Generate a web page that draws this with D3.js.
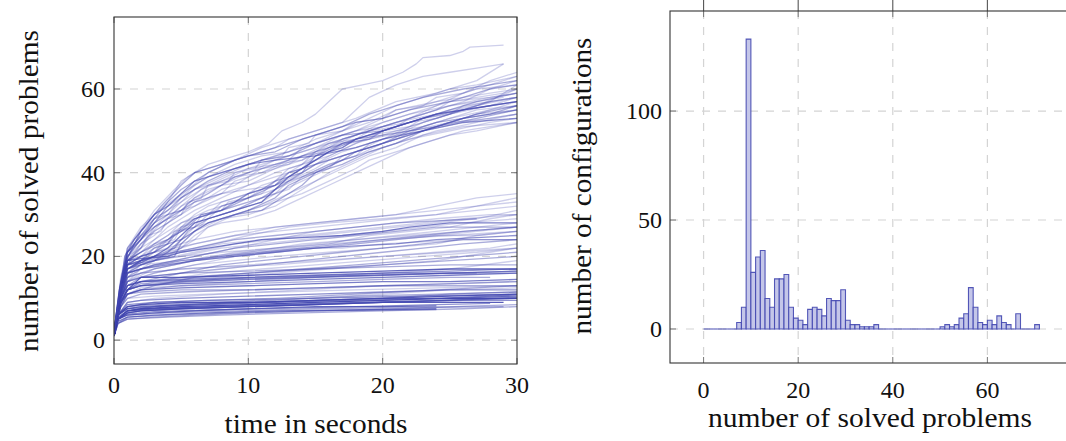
<!DOCTYPE html>
<html><head><meta charset="utf-8">
<script src="https://cdnjs.cloudflare.com/ajax/libs/d3/7.8.5/d3.min.js"></script>
<style>
html,body{margin:0;padding:0;background:#fff;}
svg{display:block;}
</style></head>
<body>
<svg id="chart" width="1066" height="441" font-family="'Liberation Serif','DejaVu Serif',serif"></svg>
<script>
// ---------------- DATA ----------------
// Left chart: cumulative solved problems over time; each entry: [points [t, solved], n]
// n = how many near-identical configurations share the curve
const upperFast = [
  [[[0,1],[0.3,8],[0.8,20],[1.5,24],[2.5,28],[3.5,32],[5,37],[6,40],[8,42],[10,44],[12,45],[14,48],[16,50],[18,52],[20,53],[22,55],[25,57],[28,60],[30,61]],2],
  [[[0,2],[0.4,12],[1,21],[2,25],[3,29],[4,31],[5,34],[7,38],[9,41],[11,43],[13,44],[15,47],[17,49],[20,50],[23,53],[26,55],[30,57]],2],
  [[[0,1],[0.5,14],[1,19],[2,22],[3,27],[4.5,30],[6,33],[8,37],[10,40],[12,43],[14,45],[16,47],[18,49],[20,52],[22,54],[25,56],[28,58],[30,59]],1],
  [[[0,2],[0.5,15],[1,22],[2,27],[3,30],[5,35],[7,39],[9,42],[11,44],[13,45],[15,48],[17,50],[19,52],[21,55],[24,57],[27,60],[29,62],[30,63]],1],
  [[[0,1],[0.4,10],[1,18],[2,23],[3.5,28],[5,32],[6.5,36],[8,38],[10,41],[12,42],[14,44],[16,46],[19,48],[22,50],[25,52],[28,53],[30,54]],1],
  [[[0,2],[0.6,16],[1.2,21],[2.5,26],[4,32],[5.5,36],[7,40],[9,43],[11,46],[13,48],[15,50],[18,53],[21,57],[24,59],[27,62],[29,66]],1],
  [[[0,1],[0.5,13],[1,20],[2,24],[3,28],[4,30],[5,31],[6,34],[7,36],[8,37],[10,38],[12,41],[14,44],[16,47],[18,49],[21,52],[24,54],[27,56],[30,58]],1],
  [[[0,2],[0.4,12],[0.9,19],[2,26],[3,30],[4,32],[5,35],[6,38],[8,40],[10,42],[12,43],[15,44],[18,46],[20,48],[23,50],[26,52],[30,53]],3],
  [[[0,2],[0.4,10],[0.8,20],[1.5,24],[3,31],[4.5,36],[5.5,39],[7,42],[9,44],[10,45],[11.5,47],[12.5,50],[14,52],[15,54],[16,57],[17,60],[18.5,61],[20,62],[21.5,64],[22.5,66],[23,67.5],[25,68],[26,69],[26.5,70],[29,70.5]],1],
  [[[0,2],[0.5,12],[1,22],[2,26],[3,30],[4,33],[5,38],[6,40],[8,42],[10,44],[12,46],[13,48],[15,50],[17,52],[18,55],[19,58],[21,61],[23,63],[25,64],[27,65],[29,66]],1],
  [[[0,1],[0.5,13],[1,21],[2,24],[3,29],[4,33],[5,36],[7,40],[9,43],[11,45],[13,47],[15,49],[17,51],[19,54],[21,56],[23,58],[26,60],[28,61],[30,62]],2],
  [[[0,2],[0.5,14],[1,21],[2,25],[3,27],[4,29],[5,32],[7,35],[9,39],[11,41],[13,43],[14,46],[16,48],[18,50],[20,53],[22,55],[24,57],[26,58],[28,59],[30,60]],1],
  [[[0,2],[0.5,13],[1,20],[2,24],[3,28],[4,32],[5,34],[6,36],[8,38],[10,40],[12,42],[14,43],[16,46],[18,49],[20,51],[23,54],[26,57],[28,60],[30,62]],1],
  [[[0,1],[0.6,15],[1,21],[2,25],[3,28],[4,31],[5,33],[7,37],[9,40],[11,42],[13,44],[15,46],[17,49],[19,51],[21,53],[23,55],[25,57],[28,58],[30,59]],1],
  [[[0,1],[0.5,11],[1,18],[2,22],[3,26],[5,30],[6,32],[8,35],[10,36],[12,37],[13,40],[15,42],[17,44],[19,46],[21,48],[23,51],[25,53],[28,55],[30,56]],1],
  [[[0,2],[0.5,14],[1,22],[2,26],[3,29],[4,30],[5,33],[6,36],[8,39],[10,42],[12,44],[14,46],[16,48],[18,50],[20,51],[22,53],[24,56],[26,59],[28,62],[30,64]],1],
  [[[0,2],[0.5,12],[1,19],[2,23],[3,25],[4,28],[5,31],[6,34],[8,37],[9,39],[11,40],[13,43],[15,45],[17,48],[19,50],[21,52],[23,54],[25,56],[27,57],[29,58]],1],
  [[[0,2],[0.5,13],[1,21],[2,24],[3,27],[4,30],[5,34],[6,37],[7,39],[9,41],[11,43],[13,45],[15,47],[17,50],[19,53],[21,56],[23,58],[25,60],[27,61],[30,63]],1],
  [[[0,1],[0.5,13],[1,20],[2,22],[2.5,25],[3.5,26],[4,29],[5,30],[5.5,33],[6.5,34],[7,37],[8.5,38],[9,40],[10.5,41],[11,43],[12.5,44],[13,46],[14.5,47],[15,49],[17,50],[18,52],[20,53],[21,55],[23,56],[24,58],[26,59],[27,60],[30,61]],1],
  [[[0,2],[0.5,14],[1,21],[1.5,23],[2.5,26],[3,28],[4,30],[5,31],[6,33],[7,34],[8,36],[9,37],[10,39],[11,40],[12,41],[14,43],[15,45],[16,47],[18,48],[19,50],[21,51],[22,53],[24,55],[25,57],[27,58],[29,59],[30,60]],1],
  [[[0,2],[0.4,11],[1,20],[2,24],[3,27],[4,29],[5,31],[6,32],[7,34],[8,35],[9,38],[10,39],[11,41],[13,42],[14,44],[16,45],[17,47],[19,48],[20,50],[22,52],[24,53],[26,55],[28,56],[30,57]],1]
];
const upperLate = [
  [[[0,1],[0.5,12],[1,17],[2,19],[3,20],[4,22],[5,25],[6,28],[7,29],[8,30],[10,32],[11,33],[12,36],[13,39],[14,41],[15,43],[16,45],[17,46],[18,48],[20,50],[22,52],[24,54],[26,55],[28,56],[30,57]],4],
  [[[0,2],[0.6,14],[1,18],[2,20],[3,21],[4,23],[4.5,25],[5.5,27],[6.5,30],[8,31],[9,33],[10,35],[11,36],[12,38],[14,40],[15,44],[17,47],[19,49],[21,51],[23,53],[25,55],[27,57],[30,59]],2],
  [[[0,1],[0.5,11],[1,16],[2,18],[3,19],[4,21],[5,24],[6,26],[7,28],[9,30],[10,31],[12,34],[13,37],[15,40],[17,43],[18,45],[20,47],[22,50],[24,51],[26,53],[28,54],[30,56]],2],
  [[[0,2],[0.5,13],[1,19],[2,21],[3,24],[4,26],[5,28],[7,30],[8,33],[10,35],[12,37],[14,40],[16,44],[18,47],[20,49],[22,51],[25,54],[28,56],[30,58]],1],
  [[[0,1],[0.5,12],[1,17],[3,20],[4.5,22],[5.5,26],[7,29],[9,31],[11,34],[13,38],[15,42],[17,44],[19,46],[21,48],[24,51],[27,53],[30,55]],2],
  [[[0,2],[0.5,10],[1,15],[2,18],[4,21],[5,23],[6,26],[8,29],[10,30],[12,32],[14,36],[16,40],[18,43],[20,46],[22,48],[25,50],[28,52],[30,53]],1],
  [[[0,1],[0.4,10],[1,16],[2,19],[3,22],[4,24],[5,27],[6,29],[8,31],[10,33],[12,35],[13,38],[15,41],[16,43],[18,45],[20,48],[22,51],[24,53],[27,56],[30,60]],1],
  [[[0,2],[0.5,13],[1,18],[2,20],[3,22],[5,24],[6,27],[7,30],[9,32],[11,34],[13,36],[14,39],[16,42],[18,44],[19,47],[21,49],[23,52],[25,54],[28,57],[30,61]],1],
  [[[0,1],[0.6,14],[1,19],[2,21],[4,24],[6,29],[8,31],[10,34],[12,37],[14,41],[16,45],[18,48],[20,49],[22,50],[24,52],[26,53],[28,54],[30,55]],2],
  [[[0,2],[0.4,9],[1,14],[2,17],[3,19],[5,22],[6,25],[7,27],[9,30],[11,32],[13,35],[15,38],[17,41],[19,44],[21,46],[23,49],[26,51],[30,52]],1],
  [[[0,1],[0.5,12],[1,18],[3,19],[4.5,20],[5,23],[6,26],[7,28],[9,30],[11,31],[12,33],[14,37],[15,40],[17,42],[19,45],[21,47],[23,50],[25,52],[27,54],[30,56]],2],
  [[[0,1],[0.5,12],[1,20],[2,23],[3,26],[4,28],[5,30],[6,33],[7,34],[9,36],[11,38],[13,40],[15,42],[17,45],[19,47],[21,49],[23,50],[25,52],[27,54],[30,55]],1],
  [[[0,1],[0.4,11],[1,19],[2,22],[3,24],[4,27],[5,29],[6,31],[8,34],[10,37],[12,40],[14,42],[16,44],[18,47],[20,50],[22,52],[25,55],[28,57],[30,58]],1],
  [[[0,1],[0.5,12],[1,18],[2,20],[3,23],[4,25],[5,27],[6,30],[7,32],[9,34],[11,36],[13,38],[15,40],[17,43],[19,45],[21,47],[24,50],[27,52],[30,54]],1],
  [[[0,2],[0.4,10],[1,17],[2,19],[3,21],[4,24],[5,26],[6,27],[8,29],[10,31],[12,33],[14,35],[16,38],[18,41],[19,43],[21,45],[23,47],[25,49],[27,50],[30,52]],1],
  [[[0,2],[0.5,13],[1,19],[2,21],[3,23],[4,25],[5,28],[7,31],[8,32],[10,34],[12,36],[14,39],[16,42],[18,44],[20,47],[22,49],[24,51],[26,53],[28,55],[30,57]],1],
  [[[0,1],[0.5,12],[1,18],[2,20],[3,21],[4,23],[5,24],[6,26],[7,29],[9,31],[11,33],[12,35],[14,38],[16,41],[17,44],[19,46],[21,48],[23,50],[26,52],[30,54]],1],
  [[[0,1],[0.4,9],[1,16],[2,18],[4,20],[5,22],[6,24],[7,27],[8,28],[10,29],[12,31],[14,34],[16,37],[18,40],[20,43],[22,46],[24,48],[26,50],[28,51],[30,52]],1],
  [[[0,2],[0.5,11],[1,18],[2,19],[3,22],[4,23],[4.5,26],[6,27],[6.5,30],[8,31],[8.5,33],[10,34],[11,36],[12,37],[13,40],[14,41],[15,44],[16,45],[17,47],[19,48],[20,50],[22,51],[23,53],[25,54],[26,56],[28,57],[30,58]],1],
  [[[0,1],[0.5,12],[1,19],[2,21],[3,23],[4,24],[5,26],[6,29],[7,30],[8,32],[9,33],[10,35],[11,37],[12,38],[13,41],[14,42],[15,45],[16,46],[17,48],[18,49],[20,51],[22,52],[24,54],[26,55],[28,57],[30,58]],1],
  [[[0,1],[0.5,12],[1,19],[2,20],[3,21],[3.5,23],[4.5,24],[5,27],[6,28],[7,29],[8,32],[9,33],[10,34],[11,35],[12,38],[13,40],[14,42],[15,44],[16,46],[17,47],[19,49],[21,50],[23,51],[25,53],[27,55],[30,56]],1]
];
const midHigh = [
  [[[0,2],[0.5,12],[1,19],[2,19.5],[4,20],[5,21],[7,22],[9,23],[11,24],[14,24.5],[17,25],[20,26],[22,27],[25,28],[27,28],[30,28]],4],
  [[[0,1],[0.5,10],[1,17],[3,21],[6,24],[9,26],[12,27],[15,28],[18,29],[21,30],[24,32],[27,34],[30,35]],1],
  [[[0,2],[0.5,11],[1,18],[3,20],[6,22],[10,25],[13,27],[16,28],[20,29],[24,30],[27,31],[30,32]],1],
  [[[0,1],[0.5,9],[1,15],[2,17],[5,19],[8,20],[11,21],[14,22],[17,23],[20,24],[23,25],[26,26],[30,27]],2],
  [[[0,2],[0.5,12],[1,16],[3,18],[5,18.5],[7,20],[10,21],[13,22],[16,23],[19,25],[22,26],[25,27],[28,29],[30,30]],1],
  [[[0,1],[0.5,10],[1,16],[2,17],[4,18],[6,19],[9,20],[12,21],[15,22],[18,22.5],[21,23],[24,24],[27,24.5],[30,25]],3],
  [[[0,2],[0.6,11],[1,14],[3,16],[6,18],[9,19],[12,20],[16,21],[20,22],[24,23],[27,25],[30,26]],1],
  [[[0,1],[0.5,9],[1,13],[2,14],[5,16],[8,18],[11,19],[14,20],[17,21],[20,22],[23,23],[26,24],[30,24]],2],
  [[[0,2],[0.5,12],[1,17],[3,20],[6,22],[9,24],[12,25],[15,26],[18,27],[21,28],[24,28.5],[27,29]],2],
  [[[0,1],[0.5,13],[1,18],[2,19],[5,20],[8,21],[12,22],[16,23],[20,24],[25,25],[30,26]],1],
  [[[0,1],[0.5,11],[1,17],[3,19],[5,20],[8,22],[11,23],[14,24],[17,25],[20,26],[23,27],[26,28],[30,29]],1],
  [[[0,1],[0.5,11],[1,17],[3,19],[6,21],[9,23],[12,24],[15,25],[18,26],[21,27],[24,28],[27,29],[30,31]],1],
  [[[0,2],[0.5,12],[1,18],[3,20],[6,23],[9,25],[12,26],[15,27],[18,28],[21,29],[24,30],[27,32],[30,33]],1],
  [[[0,1],[0.5,10],[1,15],[3,17],[6,19],[9,21],[12,22],[15,23],[18,24],[21,25],[24,26],[27,27],[30,28]],1],
  [[[0,2],[0.5,11],[1,16],[3,18],[6,20],[9,22],[12,23],[15,24],[18,25],[21,26],[24,27],[27,27],[30,27]],2],
  [[[0,1],[0.5,12],[1,17],[2,18],[5,19],[8,20],[11,21],[14,22],[17,22],[20,23],[23,23.5],[26,24],[30,24]],1],
  [[[0,2],[0.5,10],[1,14],[3,17],[6,19],[10,21],[14,23],[18,24],[22,25],[26,26],[30,27]],1],
  [[[0,1],[0.5,11],[1,16],[3,18],[6,20],[9,22],[12,24],[15,26],[18,27],[21,28],[24,29],[28,30],[30,30]],1],
  [[[0,1],[0.5,12],[1,18],[2,19],[5,21],[8,23],[11,24],[14,25],[17,26],[20,27],[23,28],[26,29],[30,30]],1],
  [[[0,2],[0.5,13],[1,19],[3,21],[6,23],[9,25],[12,27],[15,28],[18,29],[21,30],[24,31],[27,32],[30,34]],1],
  [[[0,1],[0.5,10],[1,14],[3,16],[6,18],[9,20],[12,21],[15,22],[18,23],[21,24],[24,25],[27,26],[30,27]],1],
  [[[0,2],[0.5,11],[1,15],[3,17],[6,19],[9,20],[12,21],[15,22],[18,23],[21,24],[24,25],[27,25],[30,26]],1]
];
const midLow = [
  [[[0,2],[0.5,9],[1,12],[2,15],[5,15],[10,15.5],[15,16],[20,16.5],[25,17],[30,17]],6],
  [[[0,1],[0.4,8],[1,12],[2,13],[5,13.5],[10,14],[15,14.5],[20,15],[25,15.5],[30,16]],4],
  [[[0,2],[0.5,9],[1,11],[2,12],[5,12.5],[10,13],[15,13.5],[20,14],[25,14],[30,14.5]],4],
  [[[0,1],[0.5,10],[1,13],[2,14],[5,15],[10,16],[15,17],[20,18],[25,19],[30,20]],2],
  [[[0,2],[0.5,8],[1,11],[3,13],[6,15],[10,16],[14,17],[18,18],[22,19],[26,20],[30,21]],2],
  [[[0,1],[0.5,9],[1,12],[2,13],[5,14],[10,15],[15,15.5],[20,16],[25,16],[27,16]],2],
  [[[0,1],[0.5,10],[1,14],[2,15],[5,16],[8,17],[11,18],[14,19],[17,20],[20,21],[23,22],[26,23],[30,24]],2],
  [[[0,2],[0.5,8],[1,11],[2,12],[5,13],[10,13.5],[15,14],[20,14.5],[25,15],[28,15]],2],
  [[[0,1],[0.5,9],[1,13],[2,14],[4,14.5],[8,15],[12,16],[16,17],[20,18],[24,19],[28,21],[30,22]],1],
  [[[0,1],[0.5,9],[1,12],[2,14],[5,14.5],[10,15],[15,15.5],[20,16],[25,16.5],[30,17]],3],
  [[[0,2],[0.5,10],[1,13],[2,15],[5,16],[10,16.5],[15,17],[20,17.5],[25,18],[30,18]],2],
  [[[0,1],[0.5,8],[1,11],[2,12.5],[5,13],[10,14],[15,15],[20,16],[25,17],[30,19]],1],
  [[[0,2],[0.5,9],[1,12],[3,14],[7,16],[11,17],[15,18],[19,19],[23,20],[27,21],[30,22]],1],
  [[[0,1],[0.5,9],[1,11],[2,11.5],[5,12],[10,12],[15,12.5],[20,13],[25,13],[30,13]],2],
  [[[0,1],[0.5,10],[1,13],[2,14],[5,14.2],[10,14.8],[15,15.2],[20,15.6],[25,16],[30,16.5]],3],
  [[[0,2],[0.5,9],[1,12],[2,13],[5,13.8],[10,14.5],[15,15],[20,15.5],[25,16],[30,16]],2],
  [[[0,1],[0.5,11],[1,15],[2,16],[5,17],[10,18],[15,19],[20,20],[25,21],[30,22]],1],
  [[[0,1],[0.5,10],[1,14],[2,16],[5,17],[8,17.5],[12,18],[16,19],[20,20],[24,21],[28,22],[30,23]],1],
  [[[0,2],[0.5,8],[1,10],[2,11],[5,11.5],[10,12],[15,12.5],[20,13],[25,13.5],[30,14]],2],
  [[[0,1],[0.5,9],[1,12],[2,13.5],[5,14],[10,14.5],[15,15],[20,15.5],[25,16],[30,16.5]],2]
];
const lowBand = [
  [[[0,1],[0.3,5],[1,7],[2,7.5],[5,8],[10,8.5],[15,9],[20,9.5],[25,10],[30,10]],10],
  [[[0,2],[0.3,5],[1,6.5],[2,7],[5,7.5],[10,8],[15,8.5],[20,9],[25,9],[29,9]],7],
  [[[0,1],[0.3,6],[1,8],[2,8.5],[5,9],[10,9],[15,9.5],[20,10],[25,10.5],[30,11]],7],
  [[[0,2],[0.3,5],[1,6],[3,6.5],[6,7],[10,7.5],[15,8],[20,8],[24,8.2]],5],
  [[[0,1],[0.3,4.5],[1,5.5],[3,6],[7,6.5],[12,7],[18,7.2],[24,7.5]],4],
  [[[0,1],[0.3,6],[1,9],[2,9.5],[5,10],[10,10.5],[15,11],[20,11.5],[25,12],[30,12]],3],
  [[[0,2],[0.3,5],[1,7],[3,7.5],[8,8],[14,8.5],[20,9],[26,9.5],[30,9.5]],3],
  [[[0,1],[0.3,6],[1,8],[3,9],[7,9.5],[12,10],[18,11],[24,12],[30,13]],2],
  [[[0,1],[0.3,4],[1,5],[4,5.5],[8,6],[14,6.5],[20,7],[26,7.5],[30,8]],2],
  [[[0,2],[0.3,6],[1,9],[3,10],[8,11],[14,12],[20,13],[26,13.5],[30,14]],1],
  [[[0,1],[0.3,5],[1,7],[3,8],[8,9],[14,10],[20,11],[25,12],[30,12.5]],1],
  [[[0,1],[0.3,5],[1,6],[4,6.5],[9,7],[15,7.5],[21,7.8],[29,8]],2],
  [[[0,1],[0.3,5],[1,6.5],[2,7],[5,7.5],[10,8],[15,8.5],[20,9],[25,9.5],[30,10]],5],
  [[[0,2],[0.3,6],[1,7.5],[2,8],[5,8.5],[10,9],[15,9.5],[20,10],[25,10],[30,10.5]],5],
  [[[0,1],[0.3,4],[1,5],[3,5.5],[6,6],[10,6.5],[15,7],[20,7.2],[24,7.3]],2],
  [[[0,1],[0.3,5],[1,7],[3,8],[6,8.5],[10,9],[15,9.5],[20,10],[25,11],[30,11.5]],2],
  [[[0,1],[0.3,5.5],[1,7],[3,7.5],[7,8],[12,8.5],[18,9],[24,9.5],[30,10.2]],4],
  [[[0,1],[0.3,6],[1,7.5],[3,8],[7,8.5],[12,9],[18,9.5],[24,10],[30,10.8]],4],
  [[[0,2],[0.3,6],[1,8.5],[3,9],[7,9.5],[12,9.8],[18,10.2],[24,10.6],[30,11]],3],
  [[[0,1],[0.3,5],[1,6.2],[3,6.8],[7,7.2],[12,7.6],[18,8],[24,8.5],[28,8.8]],3],
  [[[0,1],[0.3,7],[1,10],[3,10.5],[7,11],[12,11.5],[18,12],[24,12.5],[30,13]],1],
  [[[0,1],[0.3,6],[1,8],[3,8.5],[7,9],[12,9.5],[18,10.5],[24,11],[30,11.5]],2],
  [[[0,1],[0.3,4],[1,5.5],[4,6],[9,6.5],[15,7],[21,7.5],[27,8.2],[30,8.5]],2]
];
const xTicksLeft = [0,10,20,30];
const yTicksLeft = [0,20,40,60];

// Right chart: histogram (bin k covers [k, k+1))
const binStarts = d3.range(0,71);
const binCounts = [0,0,0,0,0,0,0,3,10,133,26,33,36,14,10,23,23,25,10,5,4,2,9,10,9,6,14,13,13,18,4,2,2,1,1,1,2,
  0,0,0,0,0,0,0,0,0,0,0,0,0,1,2,1,2,5,7,19,10,3,2,4,2,6,3,2,0,7,0,0,0,2];
const xTicksRight = [0,20,40,60];
const yTicksRight = [0,50,100];

const leftXLabel = "time in seconds";
const leftYLabel = "number of solved problems";
const rightXLabel = "number of solved problems";
const rightYLabel = "number of configurations";

// ---------------- DRAW ----------------
const svg = d3.select("#chart");
const FONT = "'Liberation Serif','DejaVu Serif',serif";
const BLUE = "#4247b0";
const GRID = "#d4d4d4";
const FRAME = "#333";
const TICKC = "#777";

function label(g, txt, x, y, rot, len){
  const t = g.append("text").attr("font-family",FONT).attr("fill","#111")
    .attr("text-anchor","middle").attr("font-size",27)
    .attr("textLength",len).attr("lengthAdjust","spacingAndGlyphs").text(txt);
  t.attr("transform",`translate(${x},${y})`+(rot?" rotate(-90)":""));
}

// LEFT
const L = {left:114, right:517, top:17, bottom:364};
const xL = d3.scaleLinear().domain([0,30]).range([L.left,L.right]);
const yL = d3.scaleLinear().domain([-5.7,77.2]).range([L.bottom,L.top]);

const gL = svg.append("g");
gL.append("clipPath").attr("id","clipL").append("rect")
  .attr("x",L.left).attr("y",L.top).attr("width",L.right-L.left).attr("height",L.bottom-L.top);

gL.selectAll(".gx").data(xTicksLeft.filter(d=>d>0&&d<30)).join("line")
  .attr("x1",d=>xL(d)).attr("x2",d=>xL(d)).attr("y1",L.top).attr("y2",L.bottom)
  .attr("stroke",GRID).attr("stroke-width",1.2).attr("stroke-dasharray","8,8");
gL.selectAll(".gy").data(yTicksLeft).join("line")
  .attr("x1",L.left).attr("x2",L.right).attr("y1",d=>yL(d)).attr("y2",d=>yL(d))
  .attr("stroke",GRID).attr("stroke-width",1.2).attr("stroke-dasharray","8,8");

const lineGen = d3.line().x(d=>xL(d[0])).y(d=>yL(d[1]));
const allLines = [].concat(lowBand, midLow, midHigh, upperLate, upperFast);
const gLines = gL.append("g").attr("clip-path","url(#clipL)");
gLines.selectAll("path").data(allLines).join("path")
  .attr("d",d=>lineGen(d[0]))
  .attr("fill","none").attr("stroke",BLUE)
  .attr("stroke-width",1.3)
  .attr("stroke-linejoin","round")
  .attr("stroke-opacity",d=>1-Math.pow(0.74,d[1]));

const tl = 6;
xTicksLeft.forEach(t=>{
  gL.append("line").attr("x1",xL(t)).attr("x2",xL(t)).attr("y1",L.bottom).attr("y2",L.bottom-tl).attr("stroke",TICKC);
  gL.append("line").attr("x1",xL(t)).attr("x2",xL(t)).attr("y1",L.top).attr("y2",L.top+tl).attr("stroke",TICKC);
});
yTicksLeft.forEach(t=>{
  gL.append("line").attr("x1",L.left).attr("x2",L.left+tl).attr("y1",yL(t)).attr("y2",yL(t)).attr("stroke",TICKC);
  gL.append("line").attr("x1",L.right).attr("x2",L.right-tl).attr("y1",yL(t)).attr("y2",yL(t)).attr("stroke",TICKC);
});
gL.append("rect").attr("x",L.left).attr("y",L.top).attr("width",L.right-L.left).attr("height",L.bottom-L.top)
  .attr("fill","none").attr("stroke",FRAME).attr("stroke-width",1.1);

gL.selectAll(".xl").data(xTicksLeft).join("text").attr("font-family",FONT).attr("fill","#111")
  .attr("x",d=>xL(d)).attr("y",393).attr("text-anchor","middle").attr("font-size",24).text(d=>d);
gL.selectAll(".yl").data(yTicksLeft).join("text").attr("font-family",FONT).attr("fill","#111")
  .attr("x",L.left-9).attr("y",d=>yL(d)+8).attr("text-anchor","end").attr("font-size",24).text(d=>d);
label(gL, leftXLabel, 316, 433, false, 183);
label(gL, leftYLabel, 38, 191, true, 322);

// RIGHT
const R = {left:670, right:1073, top:11, bottom:363};
const xR = d3.scaleLinear().domain([-7.1,78.1]).range([R.left,R.right]);
const yR = d3.scaleLinear().domain([-15.6,145.9]).range([R.bottom,R.top]);
const gR = svg.append("g");

gR.selectAll(".gx").data(xTicksRight).join("line")
  .attr("x1",d=>xR(d)).attr("x2",d=>xR(d)).attr("y1",R.top).attr("y2",R.bottom)
  .attr("stroke",GRID).attr("stroke-width",1.2).attr("stroke-dasharray","8,8");
gR.selectAll(".gy").data(yTicksRight).join("line")
  .attr("x1",R.left).attr("x2",R.right).attr("y1",d=>yR(d)).attr("y2",d=>yR(d))
  .attr("stroke",GRID).attr("stroke-width",1.2).attr("stroke-dasharray","8,8");

gR.selectAll("path.bar").data(binStarts).join("path").attr("class","bar")
  .attr("d",(k,i)=>{
    const x0=xR(k), x1=xR(k+1), y0=yR(0), y1=yR(binCounts[i]);
    return binCounts[i]>0 ? `M${x0},${y0}V${y1}H${x1}V${y0}Z` : `M${x0},${y0}H${x1}`;
  })
  .attr("fill","#c4c6e9").attr("stroke",BLUE).attr("stroke-width",1.1).attr("stroke-opacity",0.9);

xTicksRight.forEach(t=>{
  gR.append("line").attr("x1",xR(t)).attr("x2",xR(t)).attr("y1",R.bottom).attr("y2",R.bottom-tl).attr("stroke",TICKC);
  gR.append("line").attr("x1",xR(t)).attr("x2",xR(t)).attr("y1",R.top).attr("y2",R.top+tl).attr("stroke",TICKC);
  gR.append("line").attr("x1",xR(t)).attr("x2",xR(t)).attr("y1",0).attr("y2",R.top).attr("stroke","#555").attr("stroke-width",1.1);
});
yTicksRight.forEach(t=>{
  gR.append("line").attr("x1",R.left).attr("x2",R.left+tl).attr("y1",yR(t)).attr("y2",yR(t)).attr("stroke",TICKC);
  gR.append("line").attr("x1",R.right).attr("x2",R.right-tl).attr("y1",yR(t)).attr("y2",yR(t)).attr("stroke",TICKC);
});
gR.append("rect").attr("x",R.left).attr("y",R.top).attr("width",R.right-R.left).attr("height",R.bottom-R.top)
  .attr("fill","none").attr("stroke",FRAME).attr("stroke-width",1.1);

gR.selectAll(".xl").data(xTicksRight).join("text").attr("font-family",FONT).attr("fill","#111")
  .attr("x",d=>xR(d)).attr("y",398).attr("text-anchor","middle").attr("font-size",24).text(d=>d);
gR.selectAll(".yl").data(yTicksRight).join("text").attr("font-family",FONT).attr("fill","#111")
  .attr("x",R.left-8).attr("y",d=>yR(d)+8).attr("text-anchor","end").attr("font-size",24).text(d=>d);
label(gR, rightXLabel, 870, 427, false, 324);
label(gR, rightYLabel, 591, 186, true, 297);
</script>
</body></html>
